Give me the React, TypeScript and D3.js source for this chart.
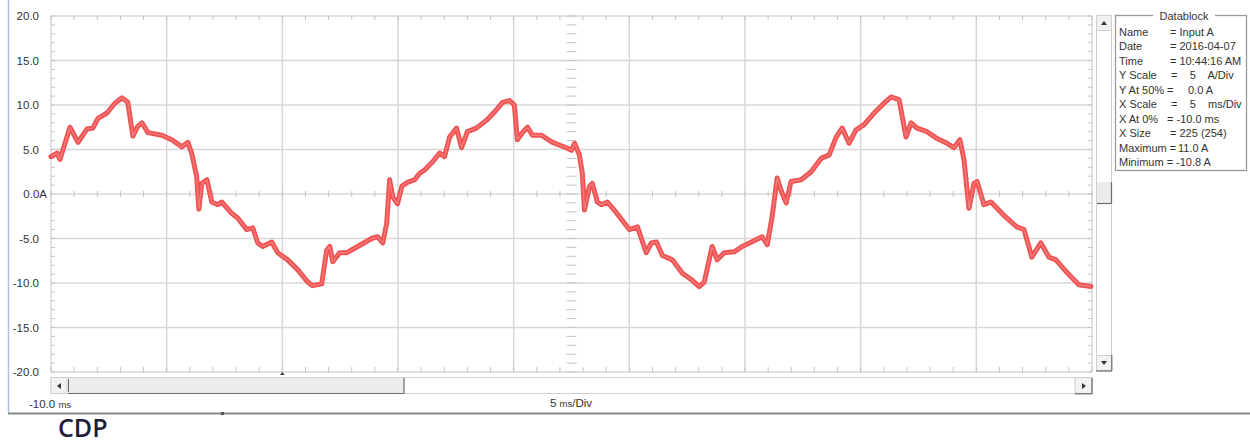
import React from "react";
import * as d3 from "d3";

// ---- data ----
const timeMs = [
  -10.0, -9.74, -9.61, -9.18, -8.83, -8.45, -8.19, -7.97, -7.58, -7.24, -6.93, -6.68, -6.46, -6.25, -6.07, -5.81,
  -5.21, -4.78, -4.34, -4.08, -3.91, -3.7, -3.61, -3.48, -3.26, -3.05, -2.79, -2.62, -2.18, -1.93, -1.54, -1.28,
  -1.06, -0.85, -0.46, -0.2, 0.23, 0.66, 1.1, 1.31, 1.7, 1.92, 2.05, 2.18, 2.48, 2.78, 3.26, 3.86, 4.12, 4.34,
  4.51, 4.64, 4.77, 4.98, 5.17, 5.41, 5.72, 5.93, 6.15, 6.49, 6.8, 7.01, 7.23, 7.53, 7.75, 8.0, 8.39, 8.83, 9.17,
  9.52, 9.82, 10.03, 10.16, 10.38, 10.6, 10.81, 11.2, 11.68, 12.28, 12.5, 12.63, 12.84, 12.97, 13.06, 13.27, 13.4,
  13.62, 13.79, 14.05, 14.44, 15.0, 15.35, 15.73, 15.95, 16.17, 16.43, 16.86, 17.29, 17.72, 18.02, 18.24, 18.58,
  18.8, 19.1, 19.53, 19.88, 20.35, 20.74, 20.96, 21.17, 21.39, 21.56, 21.78, 21.99, 22.43, 22.86, 23.29, 23.64,
  23.94, 24.2, 24.5, 24.8, 25.15, 25.58, 26.01, 26.31, 26.66, 26.96, 27.18, 27.44, 27.87, 28.26, 28.73, 29.03,
  29.29, 29.47, 29.68, 29.9, 30.03, 30.33, 30.63, 31.19, 31.75, 32.06, 32.4, 32.79, 33.14, 33.44, 33.91, 34.43, 34.95,
];
const currentA = [
  4.2, 4.6, 3.9, 7.5, 5.8, 7.3, 7.4, 8.5, 9.1, 10.2, 10.8, 10.3, 6.5, 7.6, 8.0, 6.9,
  6.6, 6.1, 5.3, 5.8, 4.5, 1.9, -1.7, 1.2, 1.6, -0.9, -1.2, -0.9, -2.2, -2.7, -4.0, -3.8,
  -5.5, -5.9, -5.4, -6.6, -7.4, -8.5, -9.9, -10.3, -10.1, -6.3, -5.9, -7.6, -6.6, -6.6, -5.9, -5.0, -4.8, -5.5,
  -3.3, 1.6, -0.3, -1.1, 0.9, 1.3, 1.6, 2.3, 2.7, 3.6, 4.6, 4.2, 6.4, 7.4, 5.2, 7.0, 7.4, 8.3, 9.2,
  10.3, 10.5, 10.0, 6.1, 6.9, 7.5, 6.6, 6.6, 5.8, 5.2, 4.9, 5.7, 4.4, 2.3, -1.8, 0.8, 1.2,
  -0.9, -1.2, -0.9, -2.1, -4.0, -3.7, -6.6, -5.5, -5.4, -6.9, -7.4, -8.9, -9.7, -10.4, -9.9, -5.9,
  -7.4, -6.6, -6.5, -5.9, -5.3, -4.8, -5.7, -2.6, 1.8, 0.4, -1.0, 1.4, 1.6, 2.5, 4.0, 4.4,
  6.4, 7.4, 5.7, 7.2, 7.8, 9.1, 10.2, 10.9, 10.6, 6.4, 8.0, 7.4, 7.0, 6.3, 5.7, 5.2,
  6.1, 3.8, -1.6, 1.2, 1.4, -1.2, -0.9, -2.4, -3.7, -4.0, -7.1, -5.5, -7.1, -7.4, -8.8, -10.2, -10.4,
];
const yTicks = [20, 15, 10, 5, 0, -5, -10, -15, -20];
const yTickLabels = ["20.0", "15.0", "10.0", "5.0", "0.0A", "-5.0", "-10.0", "-15.0", "-20.0"];
const xMajorTicks = [-10, -5, 0, 5, 10, 15, 20, 25, 30, 35];
const datablockLabels = ["Name", "Date", "Time", "Y Scale", "Y At 50% =", "X Scale", "X At 0%", "X Size", "Maximum =", "Minimum ="];
const datablockValues = ["= Input A", "= 2016-04-07", "= 10:44:16 AM", "=    5    A/Div", "0.0 A", "=    5    ms/Div", "= -10.0 ms", "= 225 (254)", "11.0 A", "-10.8 A"];

const L = 51, R = 1092, T = 16, B = 372;
const x = d3.scaleLinear().domain([-10, 35]).range([L, R]);
const y = d3.scaleLinear().domain([-20, 20]).range([B, T]);

const GRID = "#d7d7d7";
const TICK = "#c4c4c4";
const FONT = "'Liberation Sans', Arial, sans-serif";

export default function App() {
  const pts: [number, number][] = timeMs.map((t, i) => [t, currentA[i]]);
  const line = d3.line<[number, number]>().x((d) => x(d[0])).y((d) => y(d[1]));
  const minorX = d3.range(-10, 35.01, 1);
  const minorY = d3.range(-20, 20.01, 1);
  const cx = x(12.5);
  const y0 = y(0);

  const valueX = [1170, 1170, 1170, 1171, 1188, 1171, 1167, 1170, 1178, 1176];

  return (
    <svg width={1250} height={444} style={{ position: "absolute", left: 0, top: 0, background: "#fff" }}>
      {/* app frame */}
      <line x1={8.5} y1={0} x2={8.5} y2={413} stroke="#a9c3de" strokeWidth={1.5} />
      <line x1={8} y1={413.5} x2={1250} y2={413.5} stroke="#8a8a8a" strokeWidth={2} />
      <rect x={221} y={412} width={3} height={3} fill="#555" />

      {/* major grid */}
      {xMajorTicks.map((t) => (
        <line key={"gx" + t} x1={x(t)} x2={x(t)} y1={T} y2={B} stroke={GRID} strokeWidth={1.5} />
      ))}
      {yTicks.map((v) => (
        <line key={"gy" + v} x1={L} x2={R} y1={y(v)} y2={y(v)} stroke={GRID} strokeWidth={1.5} />
      ))}

      {/* minor ticks */}
      {minorX.map((t) => (
        <g key={"mx" + t} stroke={TICK} strokeWidth={1}>
          <line x1={x(t)} x2={x(t)} y1={T} y2={T + 4} />
          <line x1={x(t)} x2={x(t)} y1={B - 5} y2={B} />
          <line x1={x(t)} x2={x(t)} y1={y0 - 3} y2={y0 + 3} />
        </g>
      ))}
      {minorY.map((v) => (
        <g key={"my" + v} stroke={TICK} strokeWidth={1}>
          <line x1={L} x2={L + 4} y1={y(v)} y2={y(v)} />
          <line x1={R - 4} x2={R} y1={y(v)} y2={y(v)} />
          <line x1={cx - 5} x2={cx + 5} y1={y(v)} y2={y(v)} />
        </g>
      ))}

      {/* y labels */}
      {yTicks.map((v, i) => (
        <text
          key={"yl" + v}
          x={v === 0 ? 47 : 39}
          y={y(v)}
          dy="0.35em"
          textAnchor="end"
          fontFamily={FONT}
          fontSize={11.5}
          fill="#333"
        >
          {yTickLabels[i]}
        </text>
      ))}

      {/* waveform */}
      <path d={line(pts) || ""} fill="none" stroke="#f05252" strokeWidth={5} strokeLinejoin="round" strokeLinecap="round" />
      <path d={line(pts) || ""} fill="none" stroke="#f47a7a" strokeWidth={1.4} strokeLinejoin="round" />

      {/* trigger marker */}
      <path d={`M${x(0) - 2.5},${B + 3} L${x(0)},${B} L${x(0) + 2.5},${B + 3} Z`} fill="#444" />

      {/* horizontal scrollbar */}
      <rect x={L} y={377.5} width={R - L} height={16} fill="#fff" stroke="#cfcfcf" strokeWidth={1} />
      <rect x={L} y={377.5} width={16} height={16} fill="#f2f2f2" stroke="#cfcfcf" strokeWidth={1} />
      <path d={`M${L + 6},386 L${L + 10},383 L${L + 10},389 Z`} fill="#333" />
      <rect x={L + 17} y={378} width={404 - L - 17} height={15} fill="#ececec" />
      <line x1={L + 17.5} y1={379} x2={L + 17.5} y2={392} stroke="#666" strokeWidth={1} />
      <line x1={404} y1={378} x2={404} y2={393.5} stroke="#6b6b6b" strokeWidth={1.2} />
      <line x1={L + 17} y1={393.5} x2={404} y2={393.5} stroke="#6b6b6b" strokeWidth={1.2} />
      <rect x={1075} y={377.5} width={R - 1075} height={16} fill="#f2f2f2" stroke="#cfcfcf" strokeWidth={1} />
      <line x1={R} y1={378} x2={R} y2={394} stroke="#6b6b6b" strokeWidth={1.2} />
      <line x1={1075} y1={393.8} x2={R} y2={393.8} stroke="#6b6b6b" strokeWidth={1.2} />
      <path d={`M${1086},386 L${1082},383 L${1082},389 Z`} fill="#333" />

      {/* vertical scrollbar */}
      <rect x={1096.5} y={15.5} width={15} height={355} fill="#fff" stroke="#cfcfcf" strokeWidth={1} />
      <rect x={1096.5} y={15.5} width={15} height={15} fill="#f2f2f2" stroke="#cfcfcf" strokeWidth={1} />
      <path d="M1101,25 L1104,21 L1107,25 Z" fill="#333" />
      <rect x={1097} y={182} width={14} height={21} fill="#ececec" />
      <line x1={1111.5} y1={182} x2={1111.5} y2={203.5} stroke="#6b6b6b" strokeWidth={1.2} />
      <line x1={1097} y1={203.5} x2={1111.5} y2={203.5} stroke="#6b6b6b" strokeWidth={1.2} />
      <rect x={1096.5} y={355.5} width={15} height={15} fill="#f2f2f2" stroke="#cfcfcf" strokeWidth={1} />
      <line x1={1111.8} y1={355} x2={1111.8} y2={371} stroke="#6b6b6b" strokeWidth={1.2} />
      <line x1={1096} y1={371} x2={1112} y2={371} stroke="#6b6b6b" strokeWidth={1.2} />
      <path d="M1101,361 L1107,361 L1104,365 Z" fill="#333" />

      {/* datablock */}
      <rect x={1115.5} y={15.5} width={131} height={155} fill="#fff" stroke="#9a9a9a" strokeWidth={1.3} />
      <rect x={1153} y={9} width={62} height={12} fill="#fff" />
      <text x={1184} y={16} dy="0.35em" textAnchor="middle" fontFamily={FONT} fontSize={11} fill="#333">
        Datablock
      </text>
      {datablockLabels.map((lab, i) => (
        <g key={"db" + i} fontFamily={FONT} fontSize={11} fill="#333">
          <text x={1119} y={32 + i * 14.5} dy="0.35em">{lab}</text>
          <text x={valueX[i]} y={32 + i * 14.5} dy="0.35em" style={{ whiteSpace: "pre" }}>{datablockValues[i]}</text>
        </g>
      ))}

      {/* x labels */}
      <text x={29} y={404} dy="0.35em" fontFamily={FONT} fontSize={11.5} fill="#333">
        -10.0 <tspan fontSize={9.5}>ms</tspan>
      </text>
      <text x={571} y={403} dy="0.35em" textAnchor="middle" fontFamily={FONT} fontSize={11.5} fill="#333">
        5 <tspan fontSize={9.5}>ms</tspan>/Div
      </text>

      {/* caption */}
      <text x={58} y={437} fontFamily="'Open Sans', 'Noto Sans', sans-serif" fontSize={25} fontWeight={600} fill="#1d1d35">
        CDP
      </text>
    </svg>
  );
}
